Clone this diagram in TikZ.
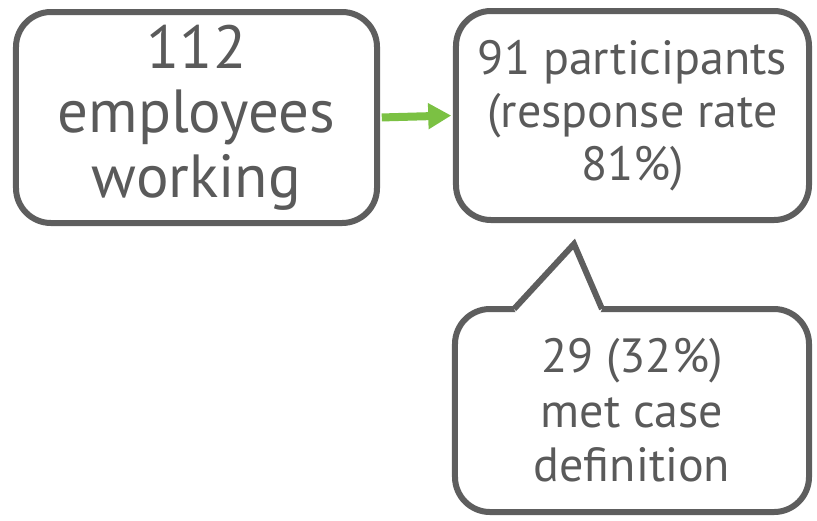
\documentclass[tikz,border=0pt]{standalone}
\usepackage{fontspec}
\setmainfont{PT Sans}
\usetikzlibrary{arrows.meta,calc}

\definecolor{boxgray}{HTML}{5E5E5E}
\definecolor{textgray}{HTML}{5A5A5A}
\definecolor{arrowgreen}{HTML}{7BC143}

\tikzset{
  stepbox/.style={draw=boxgray, line width=0.18cm, rounded corners=1.05cm,
    fill=white, text=textgray, align=center, inner sep=0pt},
  flowarrow/.style={draw=arrowgreen, line width=0.24cm,
    -{Triangle[length=0.69cm,width=0.74cm]}}
}

\begin{document}
\begin{tikzpicture}[x=0.03cm, y=-0.03cm]
  \useasboundingbox (0,0) rectangle (817,520);

  \node[name=staff, stepbox, minimum width=10.83cm, minimum height=6.33cm,
        font=\fontsize{52}{55}\selectfont] at (196.5,117.5)
        {112\\employees\\working};
  \node[name=resp, stepbox, minimum width=10.59cm, minimum height=6.27cm,
        font=\fontsize{41}{45}\selectfont] at (632.5,115.5)
        {91 participants\\(response rate\\81\%)};
  \node[name=cases, stepbox, minimum width=10.62cm, minimum height=6.09cm,
        font=\fontsize{41}{46.5}\selectfont] at (632,410.5)
        {29 (32\%)\\met case\\definition};

  \draw[flowarrow, shorten <=1.5pt, shorten >=1.5pt] (staff.east) -- (resp.west);

  % pointer of the callout
  \coordinate (tip) at (574,244);
  \coordinate (pl) at (514,309);
  \coordinate (pr) at (602,309);
  \fill[white] (pl) -- (tip) -- (pr) -- ($(pr)+(-3,6)$) -- ($(pl)+(3,6)$) -- cycle;
  \draw[boxgray, line width=0.18cm, line join=miter] (pl) -- (tip) -- (pr);
\end{tikzpicture}
\end{document}
